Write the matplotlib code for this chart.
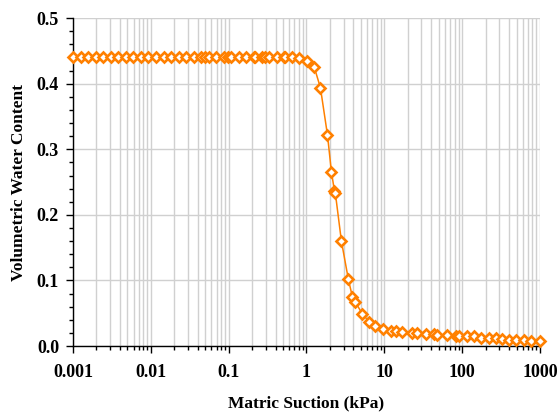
import matplotlib
matplotlib.use("Agg")
import matplotlib.pyplot as plt
from matplotlib.ticker import LogLocator, MultipleLocator, FormatStrFormatter, FixedLocator, FixedFormatter

# Soil-water characteristic curve: suction (kPa) vs volumetric water content
suction = [
    0.001, 0.00125, 0.00156, 0.00195, 0.00244, 0.00305, 0.00381, 0.00477,
    0.00596, 0.00745, 0.00931, 0.0116, 0.0146, 0.0182, 0.0227, 0.0284,
    0.0355, 0.0444, 0.05, 0.0555, 0.0694, 0.0867, 0.099, 0.108, 0.136,
    0.169, 0.212, 0.22, 0.265, 0.296, 0.331, 0.414, 0.517, 0.53, 0.647,
    0.808, 1.01, 1.26, 1.51, 1.86, 2.09, 2.29, 2.35, 2.81, 3.45, 3.89,
    4.25, 5.22, 6.42, 7.67, 9.7, 12.3, 14.3, 17.0, 22.9, 26.5, 34.5,
    43.7, 47.8, 64.2, 83.8, 91.5, 116, 143, 175, 222, 273, 326, 401,
    492, 623, 767, 1000,
]
water_content = [
    0.44, 0.44, 0.44, 0.44, 0.44, 0.44, 0.44, 0.44,
    0.44, 0.44, 0.44, 0.44, 0.44, 0.44, 0.44, 0.44,
    0.44, 0.44, 0.44, 0.44, 0.44, 0.44, 0.44, 0.44, 0.44,
    0.44, 0.44, 0.44, 0.44, 0.44, 0.44, 0.44, 0.44, 0.44, 0.44,
    0.439, 0.434, 0.425, 0.394, 0.322, 0.266, 0.236, 0.233, 0.160, 0.102, 0.075,
    0.067, 0.049, 0.037, 0.030, 0.026, 0.023, 0.023, 0.021, 0.020, 0.020, 0.018,
    0.018, 0.017, 0.017, 0.016, 0.016, 0.015, 0.015, 0.013, 0.012, 0.012, 0.011, 0.010,
    0.009, 0.009, 0.008, 0.008,
]

x_ticks = [0.001, 0.01, 0.1, 1, 10, 100, 1000]
x_tick_labels = ["0.001", "0.01", "0.1", "1", "10", "100", "1000"]

plt.rcParams["font.family"] = ["Liberation Serif", "DejaVu Serif"]
plt.rcParams["font.weight"] = "bold"

fig = plt.figure(figsize=(5.58, 4.12), dpi=100)
ax = fig.add_axes([0.1308, 0.160, 0.8369, 0.796])

orange = "#FF8000"
ax.plot(suction, water_content, color=orange, lw=1.1, marker="D",
        markersize=5.2, markerfacecolor="white", markeredgecolor=orange,
        markeredgewidth=1.9, zorder=3, clip_on=False)

ax.set_xscale("log")
ax.set_xlim(0.001, 1000)
ax.set_ylim(0, 0.5)

ax.xaxis.set_major_locator(FixedLocator(x_ticks))
ax.xaxis.set_major_formatter(FixedFormatter(x_tick_labels))
ax.xaxis.set_minor_locator(LogLocator(base=10, subs=range(2, 10), numticks=20))
ax.yaxis.set_major_locator(MultipleLocator(0.1))
ax.yaxis.set_minor_locator(MultipleLocator(0.02))
ax.yaxis.set_major_formatter(FormatStrFormatter("%.1f"))

ax.grid(True, which="major", axis="y", color="#d0d0d0", lw=1)
ax.grid(True, which="both", axis="x", color="#d0d0d0", lw=1)
ax.set_axisbelow(True)

for side in ("top", "right"):
    ax.spines[side].set_visible(False)
for side in ("left", "bottom"):
    ax.spines[side].set_color("black")
    ax.spines[side].set_linewidth(1)

ax.tick_params(axis="both", which="major", direction="out", length=5,
               width=1, labelsize=13, pad=5)
ax.tick_params(axis="x", which="major", pad=8)
ax.tick_params(axis="both", which="minor", direction="out", length=3, width=1)
ax.tick_params(axis="x", which="minor", labelbottom=False)
for lab in ax.get_xticklabels() + ax.get_yticklabels():
    lab.set_fontweight("bold")

ax.set_xlabel("Matric Suction (kPa)", fontsize=12.5, fontweight="bold", labelpad=10)
ax.set_ylabel("Volumetric Water Content", fontsize=12.5, fontweight="bold", labelpad=7)

fig.savefig("out.png", dpi=100)
